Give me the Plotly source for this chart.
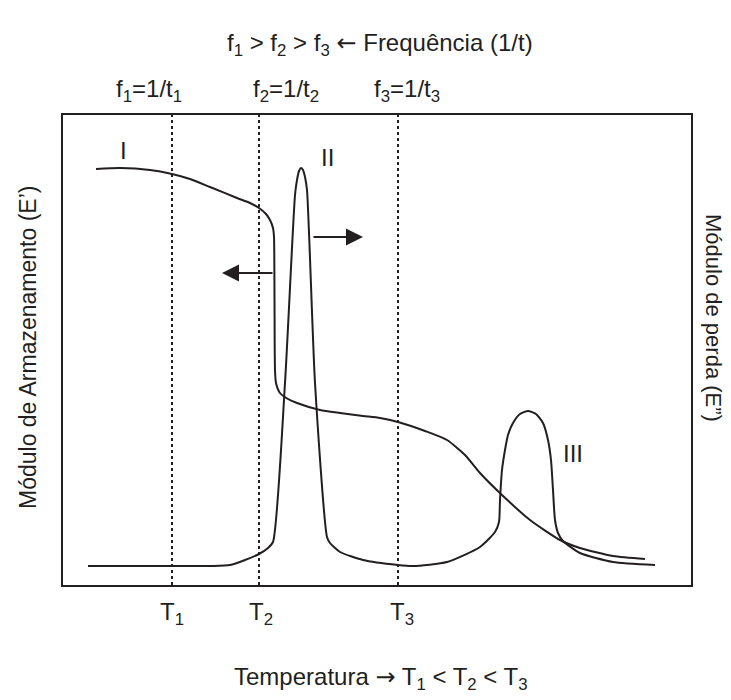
import plotly.graph_objects as go

# Curve I: storage modulus E' (arbitrary units: temperature on x, modulus on y)
storage_x = [33, 57, 87, 109, 127, 147, 174, 187, 196, 203, 207, 210, 211, 211.5, 212, 213, 217, 225,
             234, 257, 277, 300, 317, 335, 362, 384, 402, 417, 439, 467, 497, 517, 550, 582]
storage_y = [416, 417, 415, 411, 406, 398, 387, 382, 377, 371, 365, 357, 348, 285, 215, 202, 192, 186,
             182, 175, 172, 169, 167, 163, 154, 145, 130, 112, 90, 65, 45, 37, 29, 26]

# Curves II / III: loss modulus E''
loss_x = [25, 87, 150, 167, 182, 196, 205, 210, 222, 232, 234, 236, 238, 240, 242, 244, 252, 264, 267,
          277, 300, 335, 350, 384, 417, 432, 436, 437, 439, 442, 445, 450, 457, 465, 473, 480, 485, 488,
          490, 492, 495, 500, 517, 550, 592]
loss_y = [19, 19, 19, 20, 25, 31, 37, 43, 202, 390, 405, 414, 417, 415, 408, 395, 202, 48, 42,
          33, 25, 20, 19, 23, 38, 53, 63, 85, 115, 135, 150, 162, 171, 174, 171, 162, 145, 125,
          95, 65, 52, 44, 32, 23, 20]

# Reference temperatures T1, T2, T3 (dotted lines)
t_positions = [109, 196, 335]
t_labels = ["T<sub>1</sub>", "T<sub>2</sub>", "T<sub>3</sub>"]
t_label_x = [109, 198, 339]

# Frequency labels above the frame
f_labels = ["f<sub>1</sub>=1/t<sub>1</sub>", "f<sub>2</sub>=1/t<sub>2</sub>", "f<sub>3</sub>=1/t<sub>3</sub>"]
f_label_x = [86, 223, 344]

# Peak / curve labels
roman_labels = ["I", "II", "III"]
roman_x = [60, 264, 510]
roman_y = [435, 428, 132]

X_MAX, Y_MAX = 628, 470
INK = "#231f20"
FONT = "Liberation Sans, Arial, sans-serif"
ARROW_L = '<span style="font-family:DejaVu Sans">←</span>'
ARROW_R = '<span style="font-family:DejaVu Sans">→</span>'

fig = go.Figure()

for tx in t_positions:
    fig.add_trace(go.Scatter(x=[tx, tx], y=[0, Y_MAX], mode="lines",
                             line=dict(color=INK, width=2, dash="dot"),
                             hoverinfo="skip", showlegend=False))

fig.add_trace(go.Scatter(x=storage_x, y=storage_y, mode="lines",
                         line=dict(color=INK, width=2, shape="spline", smoothing=0.6),
                         showlegend=False))
fig.add_trace(go.Scatter(x=loss_x, y=loss_y, mode="lines",
                         line=dict(color=INK, width=2, shape="spline", smoothing=0.6),
                         showlegend=False))

C = dict(xanchor="center", yanchor="middle", showarrow=False)
ann = []
for lbl, x in zip(t_labels, t_label_x):
    ann.append(dict(x=x, y=-28 / Y_MAX, xref="x", yref="paper", text=lbl, **C))
for lbl, x in zip(f_labels, f_label_x):
    ann.append(dict(x=x, y=495 / Y_MAX, xref="x", yref="paper", text=lbl, **C))
for lbl, x, y in zip(roman_labels, roman_x, roman_y):
    ann.append(dict(x=x, y=y, xref="x", yref="y", text=lbl, **C))

# arrows indicating which axis each curve belongs to
ann.append(dict(x=159, y=312, ax=211, ay=312, xref="x", yref="y", axref="x", ayref="y",
                text="", showarrow=True, arrowhead=2, arrowsize=1.7, arrowwidth=2, arrowcolor=INK))
ann.append(dict(x=300, y=348, ax=249, ay=348, xref="x", yref="y", axref="x", ayref="y",
                text="", showarrow=True, arrowhead=2, arrowsize=1.7, arrowwidth=2, arrowcolor=INK))

ann.append(dict(x=317 / X_MAX, y=540 / Y_MAX, xref="paper", yref="paper",
                text="f<sub>1</sub> &gt; f<sub>2</sub> &gt; f<sub>3</sub> " + ARROW_L + " Frequência (1/t)", **C))
ann.append(dict(x=318 / X_MAX, y=-93 / Y_MAX, xref="paper", yref="paper",
                text="Temperatura " + ARROW_R + " T<sub>1</sub> &lt; T<sub>2</sub> &lt; T<sub>3</sub>", **C))
ann.append(dict(x=-35 / X_MAX, y=237 / Y_MAX, xref="paper", yref="paper", font=dict(size=23),
                text="Módulo de Armazenamento (E’)", textangle=-90, **C))
ann.append(dict(x=651 / X_MAX, y=267 / Y_MAX, xref="paper", yref="paper", font=dict(size=22),
                text="Módulo de perda (E”)", textangle=90, **C))

fig.update_layout(
    width=723, height=692,
    margin=dict(l=55, r=40, t=107, b=115),
    paper_bgcolor="white", plot_bgcolor="white",
    font=dict(family=FONT, color=INK, size=24),
    annotations=ann,
    showlegend=False,
    xaxis=dict(range=[0, X_MAX], showline=True, mirror=True, linewidth=2, linecolor=INK,
               showgrid=False, zeroline=False, showticklabels=False, ticks=""),
    yaxis=dict(range=[0, Y_MAX], showline=True, mirror=True, linewidth=2, linecolor=INK,
               showgrid=False, zeroline=False, showticklabels=False, ticks=""),
)

fig.write_html("out.html")
